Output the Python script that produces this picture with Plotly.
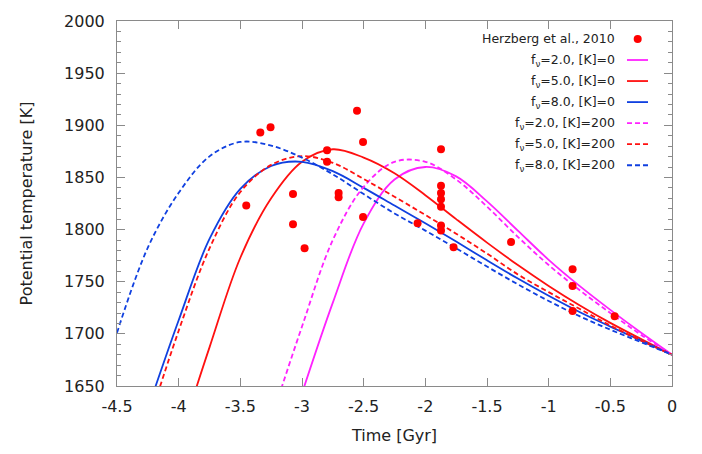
import plotly.graph_objects as go

# Herzberg et al., 2010 data
herz_t = [-3.452, -3.338, -3.255, -3.073, -3.073, -2.979, -2.797, -2.797, -2.703, -2.703,
          -2.554, -2.505, -2.505, -2.063, -1.873, -1.873, -1.873, -1.873, -1.873, -1.873,
          -1.873, -1.771, -1.305, -0.806, -0.806, -0.806, -0.465]
herz_T = [1823, 1893, 1898, 1834, 1805, 1782, 1876, 1865, 1835, 1831,
          1914, 1884, 1812, 1806, 1877, 1842, 1835, 1829, 1822, 1804,
          1799, 1783, 1788, 1762, 1746, 1722, 1717]

# model curves, every 0.25 Gyr
f2k0_t = [-3.0, -2.75, -2.5, -2.25, -2.0, -1.75, -1.5, -1.25, -1.0, -0.75, -0.5, -0.25, 0.0]
f2k0_T = [1643, 1730, 1806, 1848, 1860, 1851, 1827, 1799, 1771, 1746, 1723, 1701, 1680]

f5k0_t = [-4.0, -3.75, -3.5, -3.25, -3.0, -2.75, -2.5, -2.25, -2.0, -1.75, -1.5, -1.25, -1.0, -0.75, -0.5, -0.25, 0.0]
f5k0_T = [1596, 1687, 1773, 1830, 1865, 1877, 1869, 1854, 1833, 1810, 1787.5, 1766, 1746, 1727.5, 1710.5, 1695, 1680]

f8k0_t = [-4.25, -4.0, -3.75, -3.5, -3.25, -3.0, -2.75, -2.5, -2.25, -2.0, -1.75, -1.5, -1.25, -1.0, -0.75, -0.5, -0.25, 0.0]
f8k0_T = [1628, 1713, 1791, 1839, 1861, 1865, 1856, 1840, 1823, 1806, 1788.5, 1770.5, 1753, 1736.5, 1721, 1707, 1693.5, 1680]

f2k200_t = [-3.25, -3.0, -2.75, -2.5, -2.25, -2.0, -1.75, -1.5, -1.25, -1.0, -0.75, -0.5, -0.25, 0.0]
f2k200_T = [1618, 1707, 1790, 1841, 1865, 1865, 1848, 1822, 1793, 1766, 1742, 1720, 1699, 1680]

f5k200_t = [-4.25, -4.0, -3.75, -3.5, -3.25, -3.0, -2.75, -2.5, -2.25, -2.0, -1.75, -1.5, -1.25, -1.0, -0.75, -0.5, -0.25, 0.0]
f5k200_T = [1613, 1703, 1782, 1836, 1862, 1870.5, 1864, 1848.5, 1831.5, 1814, 1796, 1777, 1757, 1740, 1724, 1708, 1693.5, 1680]

f8k200_t = [-4.5, -4.25, -4.0, -3.75, -3.5, -3.25, -3.0, -2.75, -2.5, -2.25, -2.0, -1.75, -1.5, -1.25, -1.0, -0.75, -0.5, -0.25, 0.0]
f8k200_T = [1701, 1782.7, 1835.2, 1870.2, 1884, 1880.5, 1869, 1853, 1834, 1815.5, 1799, 1782, 1764.5, 1747.5, 1731.5, 1717, 1704, 1692, 1680]

x_ticks = [-4.5, -4, -3.5, -3, -2.5, -2, -1.5, -1, -0.5, 0]
x_tick_labels = ["-4.5", "-4", "-3.5", "-3", "-2.5", "-2", "-1.5", "-1", "-0.5", "0"]
y_ticks = [1650, 1700, 1750, 1800, 1850, 1900, 1950, 2000]

MAG = "#ff22ff"
RED = "#ff1010"
BLUE = "#1040e0"
DASH = "5px,3px"

series = [
    ("f<sub>ν</sub>=2.0, [K]=0", f2k0_t, f2k0_T, MAG, "solid"),
    ("f<sub>ν</sub>=5.0, [K]=0", f5k0_t, f5k0_T, RED, "solid"),
    ("f<sub>ν</sub>=8.0, [K]=0", f8k0_t, f8k0_T, BLUE, "solid"),
    ("f<sub>ν</sub>=2.0, [K]=200", f2k200_t, f2k200_T, MAG, DASH),
    ("f<sub>ν</sub>=5.0, [K]=200", f5k200_t, f5k200_T, RED, DASH),
    ("f<sub>ν</sub>=8.0, [K]=200", f8k200_t, f8k200_T, BLUE, DASH),
]

W, H = 702, 454
ML, MR, MT, MB = 117, 30, 14, 68
PW, PH = W - ML - MR, H - MT - MB


def px_x(px):
    return (px - ML) / PW


def px_y(py):
    return 1 - (py - MT) / PH


fig = go.Figure()
for name, t, T, c, d in series:
    fig.add_trace(go.Scatter(x=t, y=T, mode="lines", name=name,
                             line=dict(color=c, width=1.8, dash=d, shape="spline", smoothing=1.0),
                             showlegend=False))
fig.add_trace(go.Scatter(x=herz_t, y=herz_T, mode="markers", name="Herzberg et al., 2010",
                         marker=dict(color="#ff0000", size=8), showlegend=False))

# manual gnuplot-style legend (text right-aligned, sample to the right)
legend_names = ["Herzberg et al., 2010"] + [s[0] for s in series]
row_y0 = 32.3
row_dy = 21.45
text_right = 617
samp_x0, samp_x1 = 627, 648
for i, nm in enumerate(legend_names):
    yp = row_y0 + i * row_dy
    fig.add_annotation(x=px_x(text_right), y=px_y(yp), xref="paper", yref="paper",
                       text=nm, showarrow=False, xanchor="right", yanchor="middle",
                       font=dict(size=12.5, color="#222"))
    if i == 0:
        fig.add_shape(type="circle", xref="paper", yref="paper",
                      x0=px_x(637.7 - 4), x1=px_x(637.7 + 4),
                      y0=px_y(yp + 4), y1=px_y(yp - 4),
                      fillcolor="#ff0000", line=dict(width=0))
    else:
        s = series[i - 1]
        fig.add_shape(type="line", xref="paper", yref="paper",
                      x0=px_x(samp_x0), x1=px_x(samp_x1), y0=px_y(yp), y1=px_y(yp),
                      line=dict(color=s[3], width=1.8, dash=s[4]))

axis_common = dict(showgrid=False, zeroline=False, showline=True, linecolor="#8a8a8a",
                   linewidth=1, mirror="ticks", ticks="inside", tickcolor="#8a8a8a",
                   tickfont=dict(family="DejaVu Sans", size=16, color="#222"))

fig.update_xaxes(range=[-4.5, 0], tickvals=x_ticks, ticktext=x_tick_labels, ticklen=8,
                 ticklabelstandoff=6,
                 title=dict(text="Time [Gyr]", font=dict(family="DejaVu Sans", size=16, color="#222"),
                            standoff=14),
                 **axis_common)
fig.update_yaxes(range=[1650, 2000], tickvals=y_ticks, ticklen=8, ticklabelstandoff=8,
                 minor=dict(ticks="inside", dtick=10, ticklen=4, tickcolor="#8a8a8a"),
                 title=dict(text="Potential temperature [K]",
                            font=dict(family="DejaVu Sans", size=16, color="#222"), standoff=27),
                 **axis_common)

fig.update_layout(width=W, height=H, margin=dict(l=ML, r=MR, t=MT, b=MB),
                  plot_bgcolor="white", paper_bgcolor="white",
                  font=dict(family="DejaVu Sans"))

fig.write_html("out.html")
